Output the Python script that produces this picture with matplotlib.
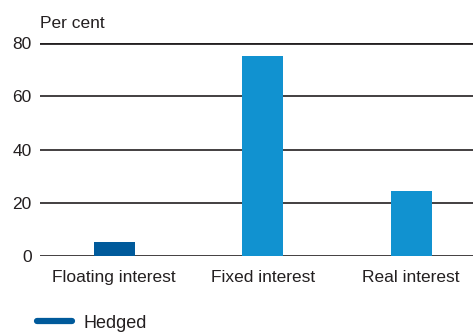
import matplotlib
matplotlib.use('Agg')
import matplotlib.pyplot as plt
from matplotlib.lines import Line2D

categories = ['Floating interest', 'Fixed interest', 'Real interest']
values = [5.2, 75.1, 24.4]
bar_colors = ['#005a9b', '#1192d0', '#1192d0']
yticks = [0, 20, 40, 60, 80]

plt.rcParams['font.family'] = ['Liberation Sans', 'DejaVu Sans']

fig = plt.figure(figsize=(4.73, 3.33), dpi=100)
ax = fig.add_axes([40/473, 1-256/333, 1-40/473, (256-43)/333])

for y in yticks:
    lw = 2.0 if y == 80 else 1.2
    ax.axhline(y, color='#231f20', lw=lw, zorder=1)
ax.bar(range(len(categories)), values, width=0.276, color=bar_colors, zorder=2)

ax.set_xlim(-0.5, 2.416)
ax.set_ylim(0, 80)
ax.set_yticks(yticks)
ax.set_xticks(range(len(categories)))
ax.set_xticklabels(categories)
ax.tick_params(axis='both', length=0, labelsize=12.5, colors='#231f20')
ax.tick_params(axis='x', pad=10)
ax.tick_params(axis='y', pad=6)
for s in ax.spines.values():
    s.set_visible(False)

fig.text(40/473, 1-28/333, 'Per cent', fontsize=12.5, color='#231f20', ha='left', va='baseline')

handle = Line2D([], [], color='#005a9b', lw=4.5, solid_capstyle='round')
fig.legend([handle], ['Hedged'], loc='lower left', bbox_to_anchor=(37/473, 0.004),
           frameon=False, fontsize=13, handlelength=1.95, handletextpad=0.6,
           borderpad=0, borderaxespad=0, labelcolor='#231f20')

fig.savefig('out.png', dpi=100)
